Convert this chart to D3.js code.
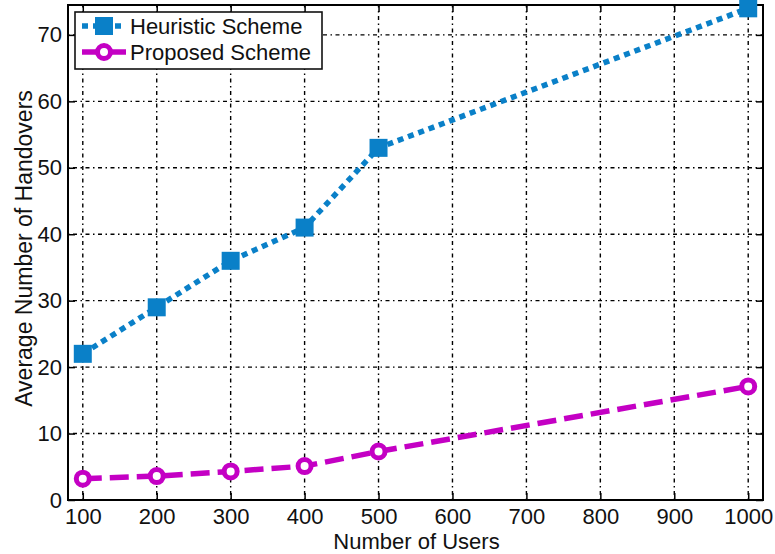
<!DOCTYPE html>
<html>
<head>
<meta charset="utf-8">
<script src="https://cdn.jsdelivr.net/npm/d3@7"></script>
<style>
  body { margin: 0; background: #fff; }
  text { font-family: "Liberation Sans", Arial, Helvetica, sans-serif; }
</style>
</head>
<body>
<script>
// data
const users = [100, 200, 300, 400, 500, 1000];
const heuristic = [22, 29, 36, 41, 53, 74];
const proposed = [3.2, 3.6, 4.3, 5.1, 7.3, 17.1];
const xTicks = [100, 200, 300, 400, 500, 600, 700, 800, 900, 1000];
const yTicks = [0, 10, 20, 30, 40, 50, 60, 70];
const seriesNames = ["Heuristic Scheme", "Proposed Scheme"];

const width = 775, height = 554;
const margin = { top: 5, right: 12, bottom: 54, left: 68 };
const blue = "#0a80c8", magenta = "#c400c4";

const svg = d3.select("body").append("svg")
  .attr("width", width)
  .attr("height", height);

const x = d3.scaleLinear().domain([80, 1020]).range([margin.left, width - margin.right]);
const y = d3.scaleLinear().domain([0, 74.5]).range([height - margin.bottom, margin.top]);

const x0 = x.range()[0], x1 = x.range()[1];
const y0 = y.range()[0], y1 = y.range()[1];

// grid
const grid = svg.append("g").attr("stroke", "#000").attr("stroke-width", 1.4)
  .attr("stroke-dasharray", "1.5,3.5,4,3.5");
grid.selectAll(".vg").data(xTicks).enter().append("line")
  .attr("x1", d => x(d)).attr("x2", d => x(d))
  .attr("y1", y0).attr("y2", y1);
grid.selectAll(".hg").data(yTicks.filter(d => d > 0)).enter().append("line")
  .attr("y1", d => y(d)).attr("y2", d => y(d))
  .attr("x1", x0).attr("x2", x1);

// axes with inward ticks, mirrored on top/right
const tickLen = 7;
svg.append("g").attr("transform", `translate(0,${y0})`)
  .call(d3.axisBottom(x).tickValues(xTicks).tickFormat(d3.format("d"))
    .tickSizeInner(-tickLen).tickSizeOuter(0).tickPadding(8))
  .call(g => g.select(".domain").remove());
svg.append("g").attr("transform", `translate(0,${y1})`)
  .call(d3.axisTop(x).tickValues(xTicks).tickSizeInner(-tickLen).tickSizeOuter(0).tickFormat(""))
  .call(g => g.select(".domain").remove());
svg.append("g").attr("transform", `translate(${x0},0)`)
  .call(d3.axisLeft(y).tickValues(yTicks).tickSizeInner(-tickLen).tickSizeOuter(0).tickPadding(6))
  .call(g => g.select(".domain").remove());
svg.append("g").attr("transform", `translate(${x1},0)`)
  .call(d3.axisRight(y).tickValues(yTicks).tickSizeInner(-tickLen).tickSizeOuter(0).tickFormat(""))
  .call(g => g.select(".domain").remove());

svg.selectAll(".tick line").attr("stroke", "#000").attr("stroke-width", 1.5);
svg.selectAll(".tick text").attr("font-size", 22).attr("fill", "#111")
  .attr("font-family", "'Liberation Sans', Arial, sans-serif");

svg.append("rect")
  .attr("x", x0).attr("y", y1)
  .attr("width", x1 - x0).attr("height", y0 - y1)
  .attr("fill", "none").attr("stroke", "#000").attr("stroke-width", 2);

// axis labels
svg.append("text")
  .attr("x", (x0 + x1) / 2 + 1).attr("y", 549)
  .attr("text-anchor", "middle").attr("font-size", 22).attr("fill", "#111")
  .text("Number of Users");
svg.append("text")
  .attr("transform", `translate(32,${(y0 + y1) / 2 - 4}) rotate(-90)`)
  .attr("text-anchor", "middle").attr("font-size", 23).attr("fill", "#111")
  .text("Average Number of Handovers");

// lines
const line = d3.line().x(d => x(d[0])).y(d => y(d[1]));
const hData = users.map((u, i) => [u, heuristic[i]]);
const pData = users.map((u, i) => [u, proposed[i]]);

svg.append("path").datum(hData)
  .attr("d", line).attr("fill", "none")
  .attr("stroke", blue).attr("stroke-width", 5.5)
  .attr("stroke-dasharray", "6,5");
svg.append("path").datum(pData)
  .attr("d", line).attr("fill", "none")
  .attr("stroke", magenta).attr("stroke-width", 5.5)
  .attr("stroke-dasharray", "19,8");

// markers
const sq = 18;
svg.selectAll(".hm").data(hData).enter().append("rect")
  .attr("x", d => x(d[0]) - sq / 2).attr("y", d => y(d[1]) - sq / 2)
  .attr("width", sq).attr("height", sq)
  .attr("fill", blue);
svg.selectAll(".pm").data(pData).enter().append("circle")
  .attr("cx", d => x(d[0])).attr("cy", d => y(d[1]))
  .attr("r", 6.5)
  .attr("fill", "#fff").attr("stroke", magenta).attr("stroke-width", 5);

// legend
const lg = svg.append("g");
lg.append("rect")
  .attr("x", 75).attr("y", 12).attr("width", 247).attr("height", 57)
  .attr("fill", "#fff").attr("stroke", "#111").attr("stroke-width", 1.6);
const rows = [
  { name: seriesNames[0], color: blue, y: 26 },
  { name: seriesNames[1], color: magenta, y: 52 }
];
rows.forEach((r, i) => {
  lg.append("line")
    .attr("x1", 82).attr("x2", 126).attr("y1", r.y).attr("y2", r.y)
    .attr("stroke", r.color).attr("stroke-width", 5.5)
    .attr("stroke-dasharray", i === 0 ? "6,5" : "44");
  if (i === 0) {
    lg.append("rect").attr("x", 104 - sq / 2).attr("y", r.y - sq / 2)
      .attr("width", sq).attr("height", sq).attr("fill", blue);
  } else {
    lg.append("circle").attr("cx", 104).attr("cy", r.y).attr("r", 6.5)
      .attr("fill", "#fff").attr("stroke", magenta).attr("stroke-width", 5);
  }
  lg.append("text")
    .attr("x", 130).attr("y", r.y + 8)
    .attr("font-size", 22).attr("fill", "#111")
    .text(r.name);
});
</script>
</body>
</html>
